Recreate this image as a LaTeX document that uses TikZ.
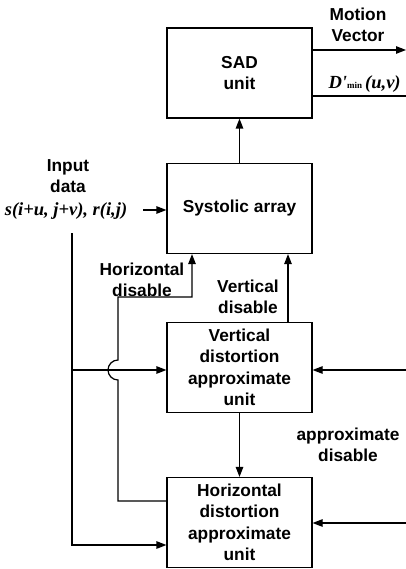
\documentclass[tikz,border=0pt]{standalone}
\usepackage{fontspec}
\setmainfont{Liberation Sans}
\newfontfamily\tnr{Liberation Serif}
\usetikzlibrary{arrows.meta}
\begin{document}
\begin{tikzpicture}[x=1pt,y=-1pt, line width=1.2pt,
 box/.style={draw, minimum width=145pt, minimum height=90pt, inner sep=0pt, align=center, font=\fontsize{17.3}{21.5}\selectfont\bfseries},
 lbl/.style={align=center, font=\fontsize{17.3}{21}\selectfont\bfseries, inner sep=0pt},
 arr/.style={-{Triangle[length=10pt,width=7.5pt]}}]
\useasboundingbox (0,0) rectangle (406,569);
\node[box] (sad) at (239.5,73) {SAD\\unit};
\node[box] (sys) at (239.5,208.5) {Systolic array};
\node[box] (vdu) at (239.5,367.5) {Vertical\\distortion\\approximate\\unit};
\node[box] (hdu) at (239.5,522.5) {Horizontal\\distortion\\approximate\\unit};
\coordinate (mv) at (406,50);
\coordinate (dm) at (406,96);
\coordinate (inA) at (143,210);
\coordinate (top) at (72,233);
\coordinate (bot) at (72,545);
\coordinate (rv) at (406,370);
\coordinate (rh) at (406,523);
\coordinate (hd1) at (118,501);
\coordinate (j1) at (118,380);
\coordinate (hd2) at (118,297);
\coordinate (hd3) at (192,297);
\coordinate (vd) at (288,0);
\draw[arr] (sys) -- (sad);
\draw[arr] (sad.east |- mv) -- (mv);
\draw (sad.east |- dm) -- (dm);
\draw[arr] (inA) -- (sys.west |- inA);
\draw[arr] (top) -- (bot) -- (hdu.west |- bot);
\draw[arr] (top |- rv) -- (vdu.west |- rv);
\draw[arr] (hdu.west |- hd1) -- (hd1) -- (j1) arc[start angle=270,end angle=90,radius=10pt] -- (hd2) -- (hd3) -- (sys.south -| hd3);
\draw[arr] (vdu.north -| vd) -- (sys.south -| vd);
\draw[arr] (vdu) -- (hdu);
\draw[arr] (rv) -- (vdu.east |- rv);
\draw[arr] (rh) -- (hdu.east |- rh);
\node[lbl] (mvl) at (358,25) {Motion\\Vector};
\node[inner sep=0pt, anchor=base west] (dml) at (328,89) {\tnr\fontsize{18.5}{18}\selectfont\bfseries\itshape D'{\upshape\fontsize{9}{9}\selectfont min}\,(u,v)};
\node[lbl] (inl) at (68,176) {Input\\data};
\node[inner sep=0pt, anchor=base] (sl) at (66,215) {\tnr\fontsize{18.5}{18}\selectfont\bfseries\itshape s(i+u, j+v), r(i,j)};
\node[lbl] (hdl) at (142,280) {Horizontal\\disable};
\node[lbl] (vdl) at (248,297) {Vertical\\disable};
\node[lbl] (adl) at (348,445) {approximate\\disable};
\end{tikzpicture}
\end{document}
